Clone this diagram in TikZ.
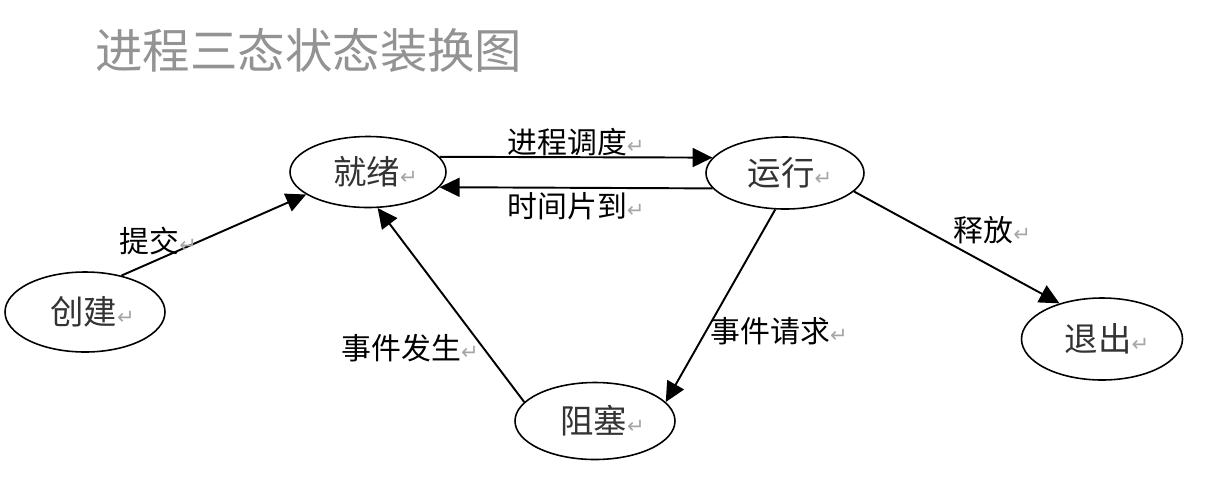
\documentclass[tikz,border=0pt]{standalone}
\usepackage{fontspec}
\setmainfont{Noto Sans CJK SC}
\newfontfamily\symfont{DejaVu Sans}
\usepackage{xcolor}
\usepackage{tikz}
\usetikzlibrary{arrows.meta,positioning,shapes.geometric}
\newcommand{\pmark}{{\symfont\fontsize{12}{12}\selectfont\color{gray!70}↵}}

\begin{document}
\begin{tikzpicture}[
  state/.style={draw,ellipse,minimum width=3.2cm,minimum height=1.5cm,inner sep=1pt,font=\fontsize{19}{21}\selectfont,text=black!80,line width=0.9pt},
  arr/.style={-{Triangle[length=4mm,width=3.8mm]},line width=1.1pt},
  lbl/.style={font=\fontsize{17}{19}\selectfont,inner sep=2pt}
]
\useasboundingbox (0,0) rectangle (24.24,-9.66);

\node[anchor=west,font=\fontsize{27}{30}\selectfont,text=gray!85,inner sep=0pt] (title) at (1.9,-1.0) {进程三态状态装换图};

\node[state,minimum width=3.12cm,minimum height=1.42cm] (jx) at (7.36,-3.44) {\hspace{0.3cm}就绪\pmark};
\node[state,minimum width=3.16cm,minimum height=1.44cm] (yx) at (15.7,-3.46) {\hspace{0.2cm}运行\pmark};
\node[state,minimum height=1.6cm] (cj) at (1.7,-6.24) {\hspace{0.3cm}创建\pmark};
\node[state,minimum width=3.22cm,minimum height=1.64cm] (tc) at (22.04,-6.78) {\hspace{0.2cm}退出\pmark};
\node[state,minimum height=1.54cm] (zb) at (11.9,-8.42) {\hspace{0.3cm}阻塞\pmark};

\draw[arr] (cj.45) -- node[lbl,above,pos=0.2] (l1) {提交\pmark} (jx.200);
\draw[arr] (jx.12) -- node[lbl,above,inner sep=0pt] (l2) {进程调度\pmark} (yx.168);
\draw[arr] (yx.192) -- node[lbl,below,inner sep=2pt] (l3) {时间片到\pmark} (jx.-12);
\draw[arr] (zb.165) -- node[lbl,left,pos=0.28] (l4) {事件发生\pmark} (jx.285);
\draw[arr] (yx.255) -- node[lbl,right,pos=0.63] (l5) {事件请求\pmark} (zb.15);
\draw[arr] (yx.-15) -- node[lbl,above right,pos=0.48,inner sep=0pt] (l6) {释放\pmark} (tc.140);

\end{tikzpicture}
\end{document}
